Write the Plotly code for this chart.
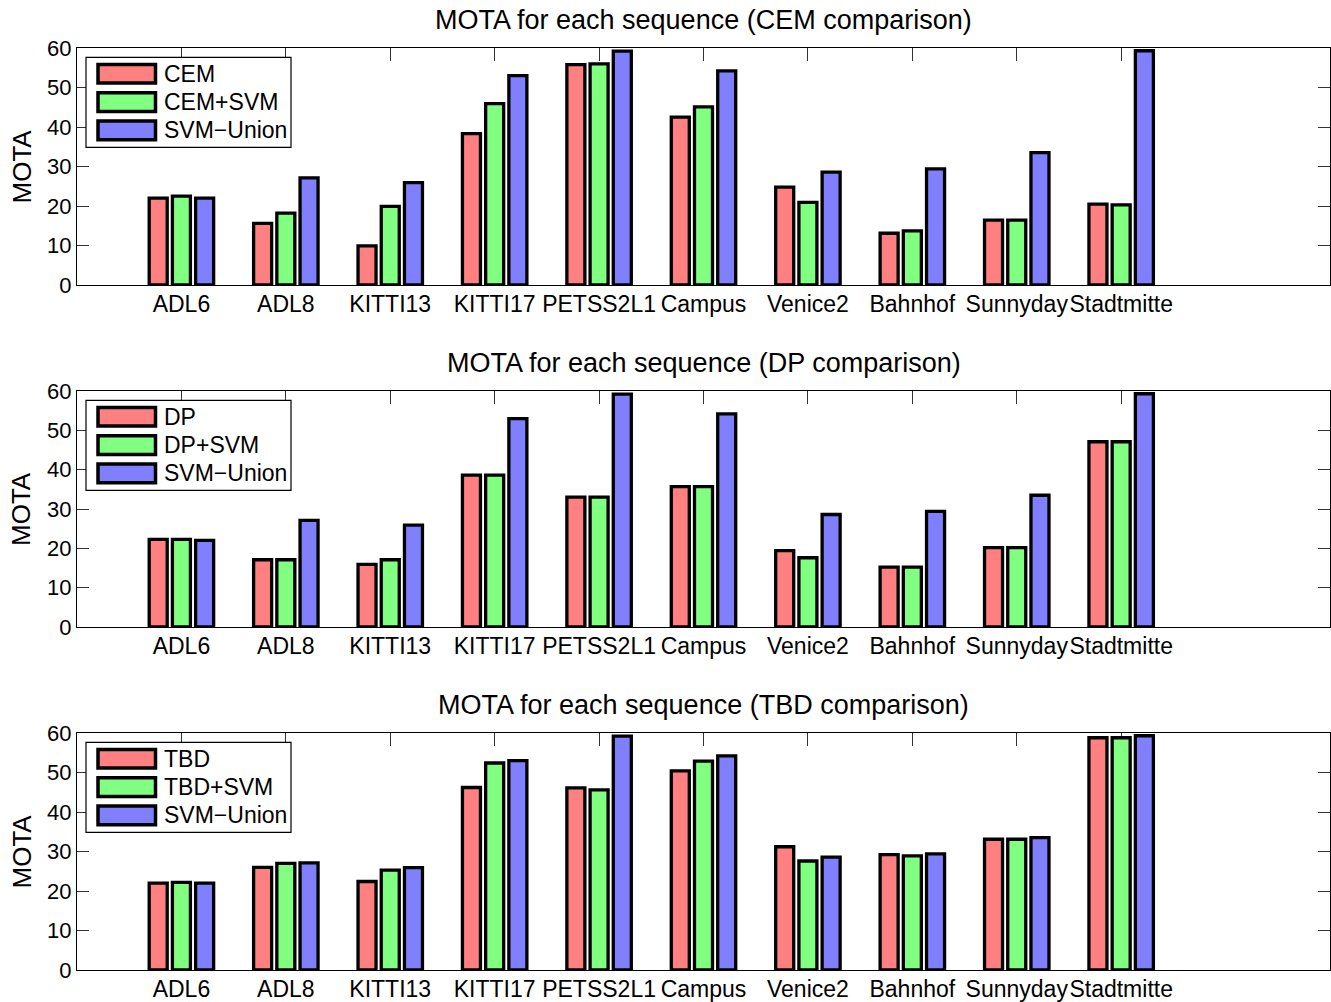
import plotly.graph_objects as go
from plotly.subplots import make_subplots

categories = ["ADL6", "ADL8", "KITTI13", "KITTI17", "PETSS2L1", "Campus",
              "Venice2", "Bahnhof", "Sunnyday", "Stadtmitte"]
x_pos = list(range(1, 11))

svm_union = [22.0, 27.1, 25.9, 53.0, 59.2, 54.2, 28.6, 29.4, 33.5, 59.3]

cem = [22.0, 15.6, 9.9, 38.3, 55.8, 42.5, 24.8, 13.1, 16.4, 20.5]
cem_svm = [22.5, 18.2, 19.9, 45.9, 56.0, 45.1, 20.9, 13.7, 16.4, 20.3]

dp = [22.3, 17.1, 15.9, 38.6, 33.0, 35.7, 19.4, 15.2, 20.2, 47.1]
dp_svm = [22.3, 17.1, 17.1, 38.6, 33.0, 35.7, 17.6, 15.2, 20.2, 47.1]

tbd = [22.0, 26.0, 22.4, 46.2, 46.1, 50.4, 31.2, 29.2, 33.1, 58.8]
tbd_svm = [22.2, 27.0, 25.3, 52.4, 45.6, 52.9, 27.6, 28.9, 33.1, 58.8]

panel_titles = ["MOTA for each sequence (CEM comparison)",
                "MOTA for each sequence (DP comparison)",
                "MOTA for each sequence (TBD comparison)"]
panel_series = [
    (["CEM", "CEM+SVM", "SVM\u2212Union"], [cem, cem_svm, svm_union]),
    (["DP", "DP+SVM", "SVM\u2212Union"], [dp, dp_svm, svm_union]),
    (["TBD", "TBD+SVM", "SVM\u2212Union"], [tbd, tbd_svm, svm_union]),
]
colors = ["#FF8080", "#80FF80", "#8080FF"]
y_ticks = [0, 10, 20, 30, 40, 50, 60]
y_label = "MOTA"

FONT = "Liberation Sans, Arial, Helvetica, sans-serif"
W, H = 1331, 1002
L_MARGIN, R_MARGIN = 77, 1
PLOT_W = W - L_MARGIN - R_MARGIN
# pixel extents (top, bottom) of each panel's plotting area
panel_px = [(48, 285), (391, 627), (733, 970)]

fig = make_subplots(rows=3, cols=1)

for r, (names, series) in enumerate(panel_series, start=1):
    for name, vals, col in zip(names, series, colors):
        fig.add_trace(go.Bar(x=x_pos, y=vals, name=name, showlegend=False,
                             marker=dict(color=col, line=dict(color="black", width=3.3))),
                      row=r, col=1)

shapes = []
annotations = []
for i, (top, bot) in enumerate(panel_px):
    ph = bot - top
    sfx = "" if i == 0 else str(i + 1)
    xa = "xaxis" + sfx
    ya = "yaxis" + sfx
    fig.layout[ya].domain = [1 - bot / H, 1 - top / H]
    fig.layout[xa].update(
        range=[0, 12], tickmode="array", tickvals=x_pos, ticktext=categories,
        ticks="inside", ticklen=13, tickwidth=1, tickcolor="#333",
        showline=True, linecolor="black", linewidth=1.3, mirror="ticks",
        showgrid=False, zeroline=False, layer="below traces", automargin=False,
        tickangle=0,
        tickfont=dict(family=FONT, size=23, color="black"),
        ticklabelstandoff=-2,
    )
    fig.layout[ya].update(
        range=[0, 60], tickmode="array", tickvals=y_ticks,
        ticks="inside", ticklen=12, tickwidth=1, tickcolor="#333",
        showline=True, linecolor="black", linewidth=1.3, mirror="ticks",
        showgrid=False, zeroline=False, layer="below traces", automargin=False,
        tickfont=dict(family=FONT, size=22, color="black"),
    )
    xd = "x" + sfx + " domain"
    yd = "y" + sfx + " domain"

    def fx(px):
        return (px - L_MARGIN) / PLOT_W

    def fy(py):
        return 1 - py / ph

    # title
    annotations.append(dict(text=panel_titles[i], xref=xd, yref=yd, x=0.5,
                            y=fy(-28), xanchor="center", yanchor="middle",
                            showarrow=False,
                            font=dict(family=FONT, size=27, color="black")))
    # y axis label
    annotations.append(dict(text=y_label, xref=xd, yref=yd, x=fx(21), y=0.5,
                            xanchor="center", yanchor="middle", textangle=-90,
                            showarrow=False,
                            font=dict(family=FONT, size=26, color="black")))
    # legend box
    shapes.append(dict(type="rect", xref=xd, yref=yd, x0=fx(86), x1=fx(291),
                       y0=fy(99.3), y1=fy(9.3), fillcolor="white",
                       line=dict(color="black", width=1.2), layer="above"))
    names = panel_series[i][0]
    for k, (nm, col) in enumerate(zip(names, colors)):
        cy = 25.8 + 28.3 * k
        shapes.append(dict(type="rect", xref=xd, yref=yd, x0=fx(98), x1=fx(155.5),
                           y0=fy(cy + 9.3), y1=fy(cy - 9.3), fillcolor=col,
                           line=dict(color="black", width=3.5), layer="above"))
        annotations.append(dict(text=nm, xref=xd, yref=yd, x=fx(162), y=fy(cy),
                                xanchor="left", yanchor="middle", showarrow=False,
                                font=dict(family=FONT, size=23, color="black")))

fig.update_layout(
    width=W, height=H,
    margin=dict(l=L_MARGIN, r=R_MARGIN, t=0, b=0, autoexpand=False),
    barmode="group", bargap=0.333, bargroupgap=0.224,
    plot_bgcolor="white", paper_bgcolor="white",
    shapes=shapes, annotations=annotations,
    font=dict(family=FONT, color="black"),
)

fig.write_html(
    "out.html",
    config={"displayModeBar": False},
    post_script=("document.body.style.margin='0';"
                 "document.body.style.padding='0';"
                 "document.documentElement.style.overflow='hidden';"),
)
